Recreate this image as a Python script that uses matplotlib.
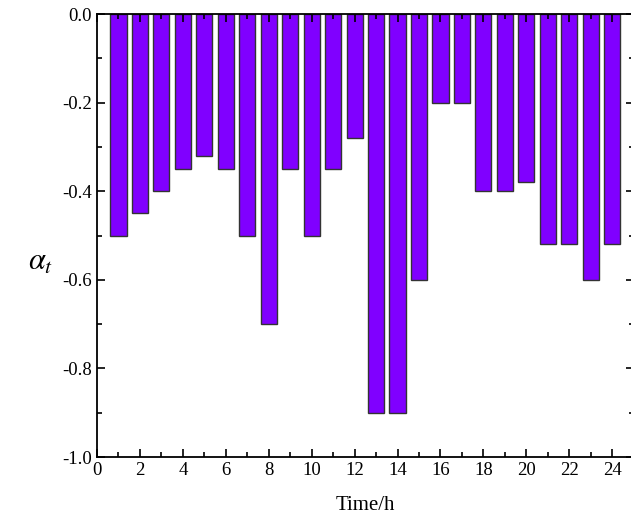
import numpy as np
import matplotlib.pyplot as plt
from matplotlib.ticker import MultipleLocator

hours = list(range(1, 25))
alpha = [-0.50, -0.45, -0.40, -0.35, -0.32, -0.35, -0.50, -0.70,
         -0.35, -0.50, -0.35, -0.28, -0.90, -0.90, -0.60, -0.20,
         -0.20, -0.40, -0.40, -0.38, -0.52, -0.52, -0.60, -0.52]

plt.rcParams['font.family'] = ['Liberation Serif', 'DejaVu Serif']
plt.rcParams['mathtext.fontset'] = 'stix'
plt.rcParams['axes.unicode_minus'] = False

fig = plt.figure(figsize=(6.31, 5.21), dpi=100)
ax = fig.add_axes([0.1537, 0.1228, 0.8505, 0.8503])

ax.bar(hours, alpha, width=0.75, color='#8000FF', edgecolor='#333333', linewidth=1.0)

ax.set_xlim(0, 25)
ax.set_ylim(-1.0, 0.0)
ax.xaxis.set_major_locator(MultipleLocator(2))
ax.xaxis.set_minor_locator(MultipleLocator(1))
ax.yaxis.set_major_locator(MultipleLocator(0.2))
ax.yaxis.set_minor_locator(MultipleLocator(0.1))
ax.yaxis.set_major_formatter(plt.FuncFormatter(lambda v, p: f"{v:.1f}"))

ax.tick_params(which='both', direction='in', top=True, right=True, labelsize=13.5, width=1.2)
ax.tick_params(which='major', length=6)
ax.tick_params(which='minor', length=3.5)
for s in ax.spines.values():
    s.set_linewidth(1.3)

ax.set_xlabel("Time/h", fontsize=15, labelpad=12)
ax.set_ylabel(r"$\alpha_t$", fontsize=22, rotation=0, va='center')
ax.yaxis.set_label_coords(-0.105, 0.44)

fig.savefig("out.png", dpi=100)
